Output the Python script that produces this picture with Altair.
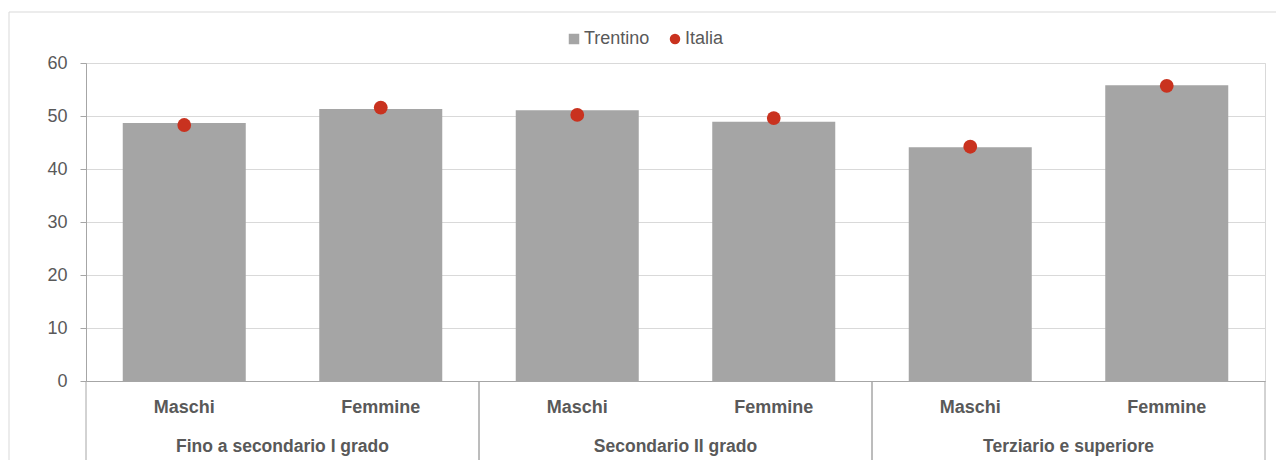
import altair as alt
import pandas as pd

# ---- data ----
groups = ["Fino a secondario I grado", "Secondario II grado", "Terziario e superiore"]
sexes = ["Maschi", "Femmine"]
trentino = [48.7, 51.3, 51.1, 48.9, 44.1, 55.8]
italia = [48.3, 51.6, 50.2, 49.6, 44.2, 55.7]
series = ["Trentino", "Italia"]
y_ticks = [0, 10, 20, 30, 40, 50, 60]

cats = [f"{g}|{s}" for g in groups for s in sexes]

bars_df = pd.DataFrame({"cat": cats, "valore": trentino, "serie": "Trentino"})
pts_df = pd.DataFrame({"cat": cats, "valore": italia, "serie": "Italia"})
grp_df = pd.DataFrame({"gruppo": groups})

FONT = "Liberation Sans Narrow, Arial Narrow, Liberation Sans, sans-serif"
TXT = "#595959"
AXC = "#A6A6A6"
GRID = "#D9D9D9"
BAR = "#A5A5A5"
RED = "#C9321F"

W, H = 1179, 318


def make_legend():
    return alt.Legend(
        title=None,
        orient="none",
        direction="horizontal",
        legendX=479,
        legendY=-33,
        labelFont=FONT,
        labelFontSize=18,
        labelColor=TXT,
        symbolSize=110,
        symbolStrokeWidth=0,
        labelOffset=1,
        columnPadding=16,
        padding=0,
    )


x_main = alt.X(
    "cat:N",
    sort=cats,
    scale=alt.Scale(domain=cats, paddingInner=0.374, paddingOuter=0.187),
    axis=alt.Axis(
        title=None,
        labelExpr="split(datum.label, '|')[1]",
        labelAngle=0,
        labelFont=FONT,
        labelFontSize=18,
        labelFontWeight="bold",
        labelColor=TXT,
        labelPadding=17,
        ticks=False,
        domainColor=AXC,
        domainWidth=1,
        grid=False,
    ),
)

y_enc = alt.Y(
    "valore:Q",
    scale=alt.Scale(domain=[0, 60], nice=False),
    axis=alt.Axis(
        title=None,
        values=y_ticks,
        labelFont=FONT,
        labelFontSize=18,
        labelColor=TXT,
        labelPadding=13,
        tickSize=6,
        tickColor=AXC,
        domainColor=AXC,
        gridColor=GRID,
        grid=True,
    ),
)

color_enc = alt.Color(
    "serie:N",
    scale=alt.Scale(domain=series, range=[BAR, RED]),
    legend=make_legend(),
)
shape_enc = alt.Shape(
    "serie:N",
    scale=alt.Scale(domain=series, range=["square", "circle"]),
    legend=make_legend(),
)

bars = alt.Chart(bars_df).mark_bar(color=BAR).encode(x=x_main, y=y_enc, color=color_enc)
points = alt.Chart(pts_df).mark_point(filled=True, size=190, opacity=1).encode(
    x=alt.X("cat:N", sort=cats), y="valore:Q", color=color_enc, shape=shape_enc
)
main = alt.layer(bars, points)

x_grp_scale = alt.Scale(domain=groups, paddingInner=0, paddingOuter=0)
sep0 = alt.Chart(grp_df).mark_rule(color=AXC, strokeWidth=1).encode(
    x=alt.X("gruppo:N", sort=groups, scale=x_grp_scale, axis=None, bandPosition=0),
    y=alt.value(H),
    y2=alt.value(H + 100),
)
sep1 = alt.Chart(grp_df).mark_rule(color=AXC, strokeWidth=1).encode(
    x=alt.X("gruppo:N", sort=groups, scale=x_grp_scale, axis=None, bandPosition=1),
    y=alt.value(H),
    y2=alt.value(H + 100),
)
grp_text = alt.Chart(grp_df).mark_text(
    font=FONT, fontSize=17.5, fontWeight="bold", color=TXT, baseline="middle", align="center"
).encode(
    x=alt.X("gruppo:N", sort=groups, scale=x_grp_scale, axis=None),
    y=alt.value(H + 66),
    text="gruppo:N",
)
grp_layer = alt.layer(sep0, sep1, grp_text)

frame = alt.Chart(alt.Data(values=[{"k": 1}])).mark_rect(
    fill=None, stroke=GRID, strokeWidth=1
).encode(
    x=alt.value(-77), x2=alt.value(W + 40), y=alt.value(-51), y2=alt.value(H + 150)
)

chart = (
    alt.layer(frame, main, grp_layer)
    .resolve_scale(x="independent")
    .properties(
        width=W,
        height=H,
        autosize=alt.AutoSizeParams(type="none"),
        padding={"left": 78, "top": 55, "right": 11, "bottom": 79},
        background="white",
    )
    .configure_view(stroke=GRID, strokeWidth=1)
)

chart.save("out.html", embed_options={"renderer": "svg", "actions": False})
